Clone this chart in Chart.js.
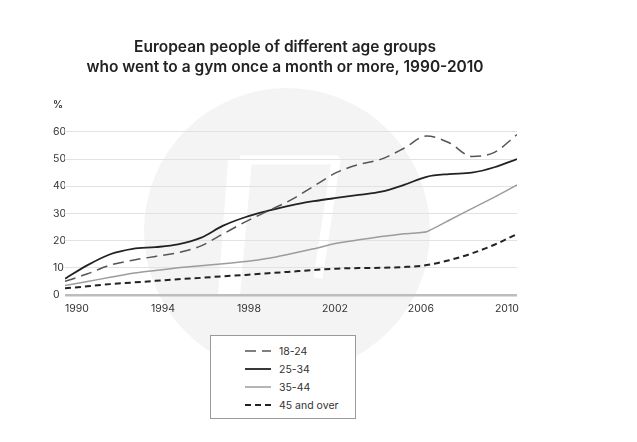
<!DOCTYPE html>
<html lang="en">
<head>
    <meta charset="UTF-8">
    <title>Gym attendance by age group</title>
    <script src="https://cdn.jsdelivr.net/npm/chart.js"></script>
    <style>
        body { margin: 0; background: #fff; font-family: Inter, "Noto Sans", sans-serif; }
        #wrap { position: relative; width: 637px; height: 442px; }
        #legenda {
            position: absolute; left: 210px; top: 335px; width: 146px; height: 84px;
            border: 1px solid #9a9a9a; background: #fff; box-sizing: border-box;
            font-size: 10.5px; color: #333;
        }
        #legenda .row { position: absolute; left: 34px; height: 14px; display: flex; align-items: center; }
        #legenda svg { margin-right: 8px; }
    </style>
</head>
<body>
<div id="wrap">
    <canvas id="grafico1" width="637" height="442"></canvas>
    <div id="legenda"></div>
</div>

<script>
    // data, one value per year
    const anos = [1990, 1991, 1992, 1993, 1994, 1995, 1996, 1997, 1998, 1999, 2000,
                  2001, 2002, 2003, 2004, 2005, 2006, 2007, 2008, 2009, 2010];
    const idade18a24 = [5, 7.8, 11, 12.8, 14.2, 15.6, 18, 22.5, 27, 31, 35,
                        40, 45, 48, 50, 54, 58.5, 56, 51, 52.5, 59];
    const idade25a34 = [6, 11, 15, 17, 17.6, 18.6, 21, 25.5, 28.7, 31, 33,
                        34.5, 35.7, 36.8, 38, 40.5, 43.5, 44.5, 45, 47, 50];
    const idade35a44 = [3.5, 5, 6.5, 8, 9, 10, 10.8, 11.5, 12.3, 13.5, 15.2,
                        17, 19, 20.3, 21.5, 22.5, 23.3, 27.5, 31.8, 36, 40.5];
    const idade45mais = [2.5, 3.2, 4, 4.6, 5.2, 5.8, 6.3, 6.9, 7.4, 8, 8.6,
                         9.2, 9.7, 9.9, 10, 10.3, 11, 12.8, 15.3, 18.5, 22.4];
    const nomes = ['18-24', '25-34', '35-44', '45 and over'];
    const ticksX = [1990, 1994, 1998, 2002, 2006, 2010];
    const ticksY = [0, 10, 20, 30, 40, 50, 60];

    const pontos = serie => anos.map((a, i) => ({ x: a, y: serie[i] }));

    const estilos = [
        { cor: '#555', largura: 1.5, traco: [11, 6] },
        { cor: '#222', largura: 1.8, traco: [] },
        { cor: '#9c9c9c', largura: 1.5, traco: [] },
        { cor: '#222', largura: 2, traco: [6, 4] }
    ];
    const series = [idade18a24, idade25a34, idade35a44, idade45mais];

    // faint round logo behind the chart
    const marcaAgua = {
        id: 'marcaAgua',
        beforeDraw(chart) {
            const c = chart.ctx;
            c.save();
            c.fillStyle = '#f4f4f4';
            c.beginPath();
            c.arc(287, 231, 143, 0, Math.PI * 2);
            c.fill();
            c.fillStyle = '#fff';
            c.lineJoin = 'round';
            // thick left bar
            c.beginPath();
            c.moveTo(228, 160);
            c.lineTo(252, 160);
            c.lineTo(240, 295);
            c.lineTo(218, 295);
            c.closePath();
            c.fill();
            // thin top and right edge
            c.strokeStyle = '#fff';
            c.lineWidth = 9;
            c.beginPath();
            c.moveTo(240, 160);
            c.lineTo(336, 160);
            c.lineTo(318, 278);
            c.stroke();
            c.restore();
        }
    };

    const porcento = {
        id: 'porcento',
        afterDraw(chart) {
            const c = chart.ctx;
            c.save();
            c.font = '600 10px Inter';
            c.fillStyle = '#333';
            c.textBaseline = 'middle';
            c.fillText('%', 53, 105);
            c.restore();
        }
    };

    const ctx = document.getElementById('grafico1');
    const grafico1 = new Chart(ctx, {
        type: 'line',
        data: {
            datasets: series.map((s, i) => ({
                label: nomes[i],
                data: pontos(s),
                borderColor: estilos[i].cor,
                borderWidth: estilos[i].largura,
                borderDash: estilos[i].traco,
                pointRadius: 0,
                fill: false,
                cubicInterpolationMode: i === 2 ? 'default' : 'monotone',
                tension: i === 2 ? 0.15 : 0.4
            }))
        },
        options: {
            responsive: false,
            animation: false,
            devicePixelRatio: 1,
            layout: { padding: { left: 53, right: 120, top: 0, bottom: 123 } },
            plugins: {
                legend: { display: false },
                tooltip: { enabled: false },
                title: {
                    display: true,
                    text: ['European people of different age groups',
                           'who went to a gym once a month or more, 1990-2010'],
                    color: '#222',
                    font: { family: 'Inter', size: 15.5, weight: '600', lineHeight: 1.32 },
                    padding: { top: 37, bottom: 54 }
                }
            },
            scales: {
                x: {
                    type: 'linear', display: false, min: 1990, max: 2010
                },
                anosEixo: {
                    type: 'linear', position: 'bottom', min: 1989.44, max: 2010.47,
                    afterBuildTicks: s => { s.ticks = ticksX.map(v => ({ value: v })); },
                    afterFit: s => { s.height = 24; },
                    grid: { display: false, drawTicks: false },
                    border: { display: false },
                    ticks: {
                        padding: 8, color: '#333', maxRotation: 0,
                        font: { family: 'Inter', size: 10.5 },
                        callback: v => String(v)
                    }
                },
                y: {
                    min: 0, max: 60,
                    afterBuildTicks: s => { s.ticks = ticksY.map(v => ({ value: v })); },
                    afterFit: s => { s.width = 12; },
                    grid: {
                        drawTicks: false,
                        color: c => c.tick.value === 0 ? '#bdbdbd' : '#e2e2e2',
                        lineWidth: c => c.tick.value === 0 ? 2.5 : 1
                    },
                    border: { display: false },
                    ticks: {
                        crossAlign: 'far', padding: 0, color: '#333',
                        font: { family: 'Inter', size: 10.5 }
                    }
                }
            }
        },
        plugins: [marcaAgua, porcento]
    });

    // legend box built from the datasets
    const legenda = document.getElementById('legenda');
    const linhasY = [8, 26, 44, 62];
    grafico1.data.datasets.forEach((d, i) => {
        const row = document.createElement('div');
        row.className = 'row';
        row.style.top = linhasY[i] + 'px';
        const dash = d.borderDash.length ? `stroke-dasharray="${d.borderDash.join(' ')}"` : '';
        row.innerHTML = `<svg width="26" height="4"><line x1="0" y1="2" x2="26" y2="2" stroke="${d.borderColor}" stroke-width="${d.borderWidth}" ${dash}/></svg><span>${d.label}</span>`;
        legenda.appendChild(row);
    });
</script>
</body>
</html>
